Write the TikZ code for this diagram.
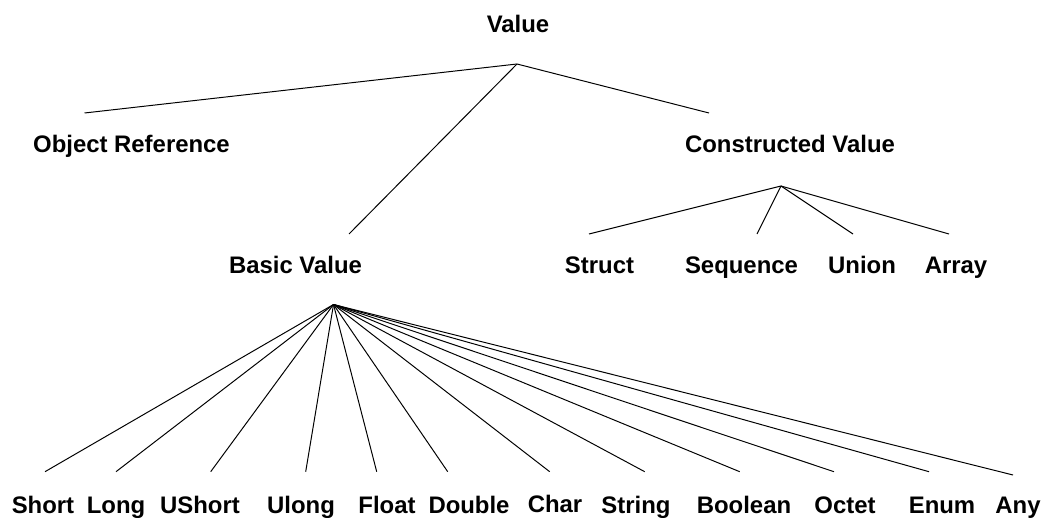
\documentclass[tikz,border=0pt]{standalone}
\usepackage{fontspec}
\setmainfont{Liberation Sans}
\usetikzlibrary{positioning}

\begin{document}
\begin{tikzpicture}[x=0.025cm, y=-0.025cm,
    every node/.style={font=\fontsize{17}{19}\selectfont\bfseries, anchor=base, inner sep=0pt},
    every edge/.style={draw, line width=0.7pt}]
      \useasboundingbox (0,0) rectangle (1058,518);
      % labels
      \node (value)       at (518,33)    {Value};
      \node (objref)      at (131.5,153) {Object Reference};
      \node (constructed) at (790,153)   {Constructed Value};
      \node (basic)       at (295.5,273) {Basic Value};
      \node (struct)      at (599.5,273) {Struct};
      \node (sequence)    at (741.5,273) {Sequence};
      \node (union)       at (862,273)   {Union};
      \node (array)       at (956,273)   {Array};
      \node (short)       at (43,513)    {Short};
      \node (long)        at (116,513)   {Long};
      \node (ushort)      at (200,513)   {UShort};
      \node (ulong)       at (301,513)   {Ulong};
      \node (float)       at (387,513)   {Float};
      \node (double)      at (469,513)   {Double};
      \node (char)        at (555,512)   {Char};
      \node (string)      at (636,513)   {String};
      \node (boolean)     at (744,513)   {Boolean};
      \node (octet)       at (845,513)   {Octet};
      \node (enum)        at (942,513)   {Enum};
      \node (any)         at (1018,513)  {Any};
      % branch points
      \coordinate (value_root)       at (517,64);
      \coordinate (constructed_root) at (781,186);
      \coordinate (basic_root)       at (333.5,304.5);
      \coordinate (objref_top)       at (84.5,113);
      \coordinate (constructed_top)  at (709,113);
      \coordinate (basic_top)        at (349,234);
      \coordinate (struct_top)       at (589,234);
      \coordinate (sequence_top)     at (757,234);
      \coordinate (union_top)        at (853,234);
      \coordinate (array_top)        at (949,234);
      \coordinate (short_top)        at (45,471.7);
      \coordinate (long_top)         at (116,471.7);
      \coordinate (ushort_top)       at (210.7,471.7);
      \coordinate (ulong_top)        at (305.7,471.7);
      \coordinate (float_top)        at (376.7,471.7);
      \coordinate (double_top)       at (447.7,471.7);
      \coordinate (char_top)         at (549.7,471.7);
      \coordinate (string_top)       at (644.7,471.7);
      \coordinate (boolean_top)      at (739.7,471.7);
      \coordinate (octet_top)        at (834,471.7);
      \coordinate (enum_top)         at (929,471.7);
      \coordinate (any_top)          at (1013,475);
      \path
        (value_root) edge (objref_top)
                     edge (constructed_top)
                     edge (basic_top)
        (constructed_root) edge (struct_top)
                           edge (sequence_top)
                           edge (union_top)
                           edge (array_top)
        (basic_root) edge (short_top)
                     edge (long_top)
                     edge (ushort_top)
                     edge (ulong_top)
                     edge (float_top)
                     edge (double_top)
                     edge (char_top)
                     edge (string_top)
                     edge (boolean_top)
                     edge (octet_top)
                     edge (enum_top)
                     edge (any_top);
    \end{tikzpicture}
\end{document}
